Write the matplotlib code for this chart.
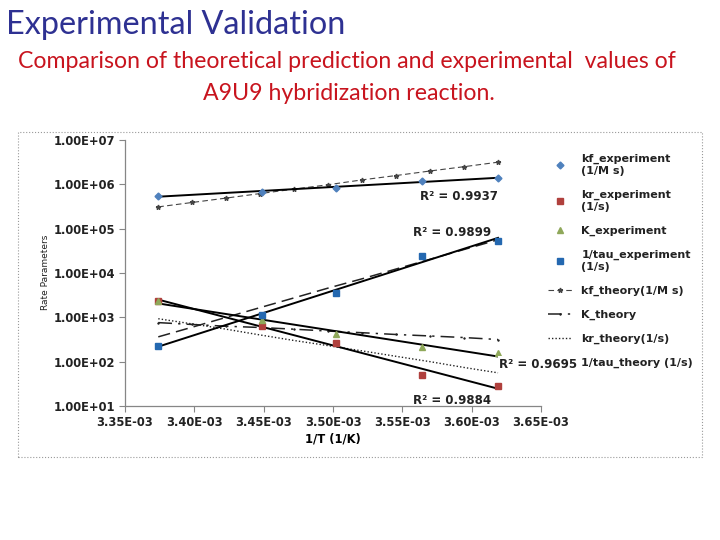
import numpy as np
import matplotlib.pyplot as plt
from matplotlib.patches import Rectangle
from matplotlib.ticker import FuncFormatter

# Experimental points, x = 1/T (1/K)
inv_t_exp = [3.374e-3, 3.449e-3, 3.502e-3, 3.564e-3, 3.619e-3]
kf_exp = [5.5e5, 6.8e5, 8.3e5, 1.2e6, 1.4e6]
kr_exp = [2350, 650, 270, 51, 27.7]
k_exp = [2300, 890, 410, 210, 160]
tau_exp = [229, 1150, 3550, 24500, 53000]

# Theory curves
inv_t_theory = [3.374e-3, 3.3985e-3, 3.423e-3, 3.4475e-3, 3.472e-3, 3.4965e-3,
                3.521e-3, 3.5455e-3, 3.570e-3, 3.5945e-3, 3.619e-3]
kf_theory = [3.1e5, 3.9e5, 4.9e5, 6.2e5, 7.8e5, 9.8e5,
             1.26e6, 1.58e6, 2.0e6, 2.5e6, 3.16e6]
k_theory = [760, 690, 630, 590, 540, 490, 450, 410, 380, 350, 316]
kr_theory = [930, 710, 540, 400, 300, 230, 175, 132, 100, 74, 56]
tau_theory = [363, 600, 1000, 1660, 2750, 4570, 7400, 12300, 20400, 33900, 56200]

x_ticks = [3.35e-3, 3.40e-3, 3.45e-3, 3.50e-3, 3.55e-3, 3.60e-3, 3.65e-3]
y_ticks = [1e1, 1e2, 1e3, 1e4, 1e5, 1e6, 1e7]

r2_kf = "R² = 0.9937"
r2_tau = "R² = 0.9899"
r2_k = "R² = 0.9695"
r2_kr = "R² = 0.9884"

TICK_FONT = {"family": "DejaVu Sans", "size": 8.3, "weight": "bold"}


def trend(x, y):
    """Exponential trendline (straight on a log axis) over the data range."""
    x = np.asarray(x)
    a, b = np.polyfit(x, np.log10(y), 1)
    xs = np.array([x.min(), x.max()])
    return xs, 10 ** (a * xs + b)


fig = plt.figure(figsize=(7.2, 5.4), dpi=100)

# Slide heading
fig.text(6 / 720, 1 - 25 / 540, "Experimental Validation", family="Lato",
         fontsize=23.3, color="#2E3192", va="center", ha="left")
fig.text(347 / 720, 1 - 62 / 540,
         "Comparison of theoretical prediction and experimental  values of",
         family="Lato", fontsize=16.7, color="#C8141E", ha="center", va="center")
fig.text(349 / 720, 1 - 93 / 540, "A9U9 hybridization reaction.",
         family="Lato", fontsize=16.7, color="#C8141E", ha="center", va="center")

# Dotted frame of the pasted chart
fig.patches.append(Rectangle((18 / 720, 1 - 457 / 540), 684 / 720, 325 / 540,
                             transform=fig.transFigure, fill=False,
                             edgecolor="#9a9a9a", linestyle=":", linewidth=0.8))

ax = fig.add_axes([125 / 720, 1 - 406 / 540, 416 / 720, 266 / 540])

# Experimental markers
ax.plot(inv_t_exp, kf_exp, linestyle="none", marker="D", markersize=3.5,
        color="#4F81BD", label="kf_experiment\n(1/M s)", zorder=4)
ax.plot(inv_t_exp, kr_exp, linestyle="none", marker="s", markersize=5,
        color="#B0403D", label="kr_experiment\n(1/s)", zorder=4)
ax.plot(inv_t_exp, k_exp, linestyle="none", marker="^", markersize=5,
        color="#8FA85A", label="K_experiment", zorder=4)
ax.plot(inv_t_exp, tau_exp, linestyle="none", marker="s", markersize=5,
        color="#2468B0", label="1/tau_experiment\n(1/s)", zorder=4)

# Theory curves
ax.plot(inv_t_theory, kf_theory, linestyle=(0, (5, 3)), marker="*", markersize=3.5,
        color="#444444", linewidth=0.8, label="kf_theory(1/M s)")
ax.plot(inv_t_theory, k_theory, linestyle=(0, (9, 4, 1.5, 4)), marker="+",
        markersize=2, color="#222222", linewidth=1.1, label="K_theory")
ax.plot(inv_t_theory, kr_theory, linestyle=(0, (1, 1.5)), color="#222222",
        linewidth=1.0, label="kr_theory(1/s)")
ax.plot(inv_t_theory, tau_theory, linestyle=(0, (8, 4)), color="#222222",
        linewidth=1.1, label="1/tau_theory (1/s)")

# Trendlines through the experimental data
for yv in (kf_exp, kr_exp, k_exp, tau_exp):
    xs, ys = trend(inv_t_exp, yv)
    ax.plot(xs, ys, color="black", linewidth=1.4, zorder=3)

ax.set_yscale("log")
ax.set_xlim(3.35e-3, 3.65e-3)
ax.set_ylim(1e1, 1e7)
ax.set_xticks(x_ticks)
ax.set_yticks(y_ticks)
ax.yaxis.set_minor_locator(plt.NullLocator())
ax.xaxis.set_major_formatter(FuncFormatter(lambda v, p: f"{v:.2E}"))
ax.yaxis.set_major_formatter(FuncFormatter(lambda v, p: f"{v:.2E}"))
for lab in ax.get_xticklabels() + ax.get_yticklabels():
    lab.set_fontproperties(TICK_FONT)
    lab.set_color("#222222")
ax.tick_params(direction="out", length=4, width=0.8, color="#868686", pad=3)

for side in ("top", "right"):
    ax.spines[side].set_visible(False)
for side in ("left", "bottom"):
    ax.spines[side].set_color("#868686")
    ax.spines[side].set_linewidth(0.9)

ax.set_xlabel("1/T (1/K)", fontdict=TICK_FONT, labelpad=3)
fig.text(45 / 720, 1 - 272 / 540, "Rate Parameters", rotation=90,
         fontsize=6.5, ha="center", va="center", color="#222222")

# R² labels
r2_font = {"family": "DejaVu Sans", "size": 8.5, "weight": "bold", "color": "#222222"}
fig.text(459 / 720, 1 - 197 / 540, r2_kf, ha="center", va="center", **r2_font)
fig.text(452 / 720, 1 - 232 / 540, r2_tau, ha="center", va="center", **r2_font)
fig.text(452 / 720, 1 - 400 / 540, r2_kr, ha="center", va="center", **r2_font)

leg = ax.legend(loc="upper left", bbox_to_anchor=(548 / 720, 1 - 154 / 540),
                bbox_transform=fig.transFigure, frameon=False,
                prop={"family": "DejaVu Sans", "size": 8, "weight": "bold"},
                labelspacing=1.25, handlelength=2.2, handletextpad=0.8,
                borderaxespad=0, borderpad=0)
for t in leg.get_texts():
    t.set_color("#222222")

fig.text(538 / 720, 1 - 364 / 540, r2_k, ha="center", va="center", zorder=10,
         bbox=dict(facecolor="white", edgecolor="none", pad=1), **r2_font)

fig.savefig("out.png", dpi=100)
